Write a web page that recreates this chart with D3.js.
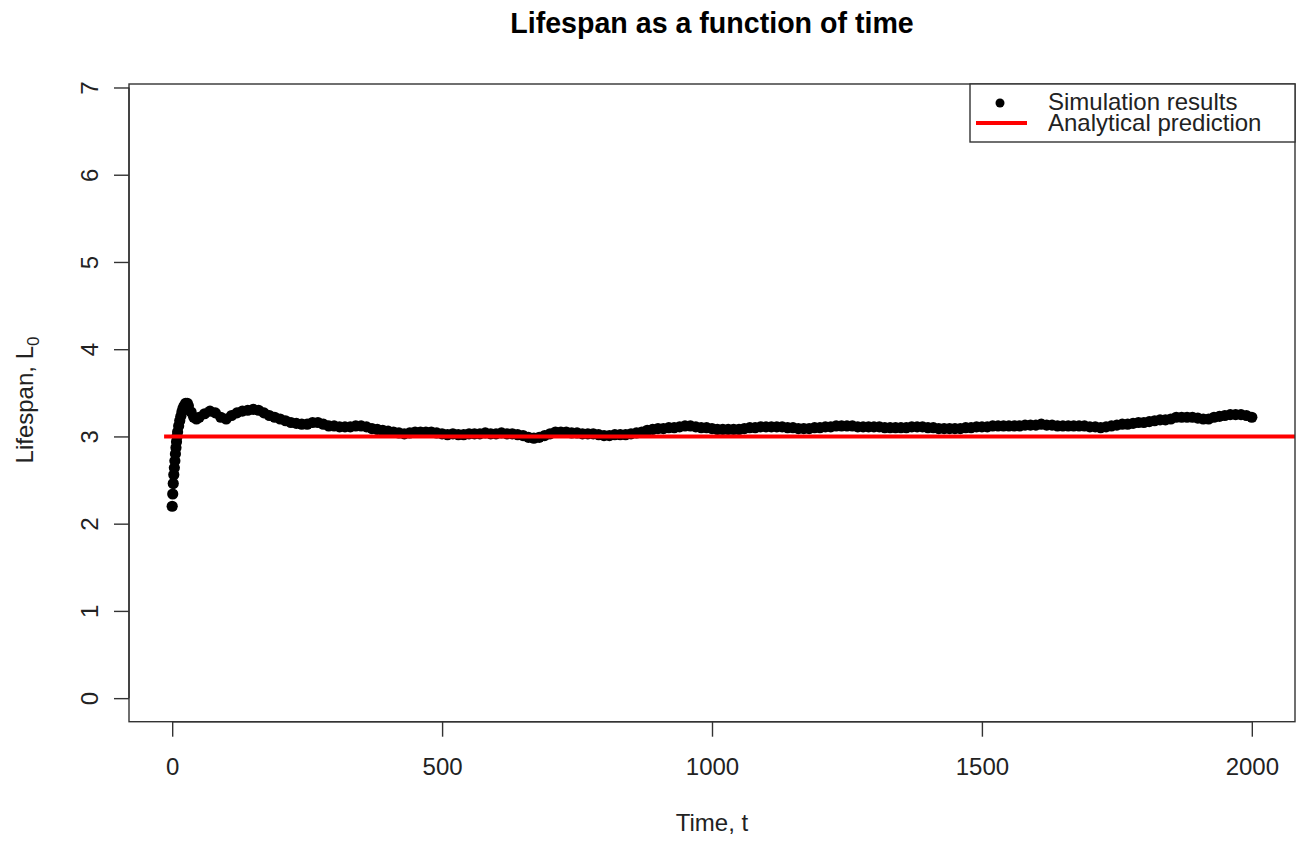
<!DOCTYPE html>
<html>
<head>
    <meta charset="utf-8">
    <style>
        body { margin: 0; background: white; }
        svg { display: block; font-family: "Liberation Sans", Arial, sans-serif; }
        .axis text { font-size: 24px; fill: #222; }
        .axis path, .axis line { stroke: #333; stroke-width: 1.4px; }
    </style>
</head>
<body>
    <svg width="1300" height="841"></svg>

<script src="https://d3js.org/d3.v7.min.js"></script>
<script>
    // time steps and simulated lifespan
    let timeSteps = [0, 1, 2, 3, 4, 5, 6, 7, 8, 9, 10, 12, 14, 16, 18, 20, 22, 25, 28, 30, 35,
        40, 45, 50, 60, 70, 80, 90, 100, 110, 120, 130, 140, 150, 160, 170, 180, 190, 200,
        210, 220, 230, 240, 250, 260, 270, 280, 290, 300, 310, 320, 330, 340, 350, 360, 370,
        380, 390, 400, 410, 420, 430, 440, 450, 460, 470, 480, 490, 500, 510, 520, 530, 540,
        550, 560, 570, 580, 590, 600, 610, 620, 630, 640, 650, 660, 670, 680, 690, 700, 710,
        720, 730, 740, 750, 760, 770, 780, 790, 800, 810, 820, 830, 840, 850, 860, 870, 880,
        890, 900, 910, 920, 930, 940, 950, 960, 970, 980, 990, 1000, 1010, 1020, 1030, 1040,
        1050, 1060, 1070, 1080, 1090, 1100, 1110, 1120, 1130, 1140, 1150, 1160, 1170, 1180,
        1190, 1200, 1210, 1220, 1230, 1240, 1250, 1260, 1270, 1280, 1290, 1300, 1310, 1320,
        1330, 1340, 1350, 1360, 1370, 1380, 1390, 1400, 1410, 1420, 1430, 1440, 1450, 1460,
        1470, 1480, 1490, 1500, 1510, 1520, 1530, 1540, 1550, 1560, 1570, 1580, 1590, 1600,
        1610, 1620, 1630, 1640, 1650, 1660, 1670, 1680, 1690, 1700, 1710, 1720, 1730, 1740,
        1750, 1760, 1770, 1780, 1790, 1800, 1810, 1820, 1830, 1840, 1850, 1860, 1870, 1880,
        1890, 1900, 1910, 1920, 1930, 1940, 1950, 1960, 1970, 1980, 1990, 2000]

    let lifespan = [2.20, 2.34, 2.46, 2.56, 2.64, 2.72, 2.80, 2.87, 2.94, 3.00, 3.05, 3.12, 3.18, 3.23, 3.28, 3.32, 3.35, 3.38, 3.38, 3.35, 3.28,
        3.22, 3.20, 3.22, 3.26, 3.29, 3.27, 3.22, 3.20, 3.24, 3.27, 3.29, 3.30, 3.31, 3.30, 3.27, 3.24, 3.22, 3.20,
        3.18, 3.16, 3.15, 3.14, 3.14, 3.16, 3.16, 3.14, 3.12, 3.12, 3.11, 3.11, 3.11, 3.12, 3.12, 3.11, 3.09,
        3.08, 3.07, 3.06, 3.05, 3.04, 3.03, 3.04, 3.05, 3.05, 3.05, 3.05, 3.04, 3.03, 3.02, 3.03, 3.02, 3.02,
        3.03, 3.03, 3.03, 3.04, 3.03, 3.03, 3.04, 3.03, 3.03, 3.02, 3.01, 2.99, 2.98, 2.99, 3.01, 3.03, 3.05,
        3.05, 3.05, 3.04, 3.04, 3.03, 3.03, 3.03, 3.02, 3.01, 3.01, 3.02, 3.02, 3.02, 3.03, 3.04, 3.05, 3.07,
        3.08, 3.09, 3.09, 3.10, 3.10, 3.11, 3.12, 3.12, 3.11, 3.10, 3.10, 3.09, 3.08, 3.08, 3.08, 3.08,
        3.08, 3.09, 3.10, 3.10, 3.11, 3.11, 3.11, 3.11, 3.11, 3.10, 3.10, 3.09, 3.09, 3.09,
        3.10, 3.10, 3.11, 3.11, 3.12, 3.12, 3.12, 3.12, 3.11, 3.11, 3.11, 3.11, 3.11, 3.10,
        3.10, 3.10, 3.10, 3.10, 3.11, 3.11, 3.11, 3.10, 3.10, 3.09, 3.09, 3.09, 3.09, 3.09,
        3.10, 3.10, 3.11, 3.11, 3.11, 3.12, 3.12, 3.12, 3.12, 3.12, 3.12, 3.13, 3.13, 3.13,
        3.14, 3.13, 3.13, 3.12, 3.12, 3.12, 3.12, 3.12, 3.12, 3.11, 3.11, 3.10, 3.11, 3.12,
        3.13, 3.14, 3.14, 3.15, 3.16, 3.16, 3.17, 3.18, 3.19, 3.19, 3.20, 3.22, 3.22, 3.22,
        3.22, 3.21, 3.20, 3.20, 3.22, 3.23, 3.24, 3.25, 3.25, 3.25, 3.24, 3.22]

    let xTicks = [0, 500, 1000, 1500, 2000]
    let yTicks = [0, 1, 2, 3, 4, 5, 6, 7]
    let predicted = 3
    let predictionRange = [-15, 2080]
    let legendLabels = ["Simulation results", "Analytical prediction"]

    let data = timeSteps.map((t, i) => ({ t: t, v: lifespan[i] }))

    let svg = d3.select("svg")

    let plot = { left: 129, right: 1295, top: 84, bottom: 721.7 }

    let x = d3.scaleLinear()
        .domain([-80, 2080])
        .range([plot.left, plot.right])

    let y = d3.scaleLinear()
        .domain([-0.27, 7.04])
        .range([plot.bottom, plot.top])

    // points (thick band like the overlapping R dots)
    svg.append("g")
        .selectAll("circle")
        .data(data)
        .join("circle")
        .attr("cx", d => x(d.t))
        .attr("cy", d => y(d.v))
        .attr("r", 5.6)
        .attr("fill", "black")

    // analytical prediction
    svg.append("line")
        .attr("x1", x(predictionRange[0]))
        .attr("x2", x(predictionRange[1]))
        .attr("y1", y(predicted))
        .attr("y2", y(predicted))
        .style("stroke", "#ff0000")
        .style("stroke-width", 4)

    // box
    svg.append("rect")
        .attr("x", plot.left)
        .attr("y", plot.top)
        .attr("width", plot.right - plot.left)
        .attr("height", plot.bottom - plot.top)
        .style("fill", "none")
        .style("stroke", "#333")
        .style("stroke-width", 1.4)

    let xAxis = svg.append("g")
        .attr("class", "axis")
        .attr("transform", `translate(0,${plot.bottom})`)
        .call(d3.axisBottom(x).tickValues(xTicks).tickFormat(d3.format("d"))
            .tickSize(15).tickPadding(0).tickSizeOuter(0))
    xAxis.select(".domain")
        .attr("d", `M${x(xTicks[0])},0H${x(xTicks[xTicks.length - 1])}`)
    xAxis.selectAll("text").attr("dy", null).attr("y", 53)

    let yAxis = svg.append("g")
        .attr("class", "axis")
        .attr("transform", `translate(${plot.left},0)`)
        .call(d3.axisLeft(y).tickValues(yTicks).tickSize(15).tickSizeOuter(0))
    yAxis.select(".domain")
        .attr("d", `M0,${y(yTicks[0])}V${y(yTicks[yTicks.length - 1])}`)
    yAxis.selectAll("text")
        .attr("x", null).attr("dy", null)
        .attr("text-anchor", "middle")
        .attr("transform", "translate(-31,0) rotate(-90)")

    // title
    svg.append("text")
        .attr("x", 712)
        .attr("y", 33)
        .attr("text-anchor", "middle")
        .style("font-size", "28.6px")
        .style("font-weight", "bold")
        .style("fill", "black")
        .text("Lifespan as a function of time")

    svg.append("text")
        .attr("x", 712)
        .attr("y", 831)
        .attr("text-anchor", "middle")
        .style("font-size", "24px")
        .style("fill", "#222")
        .text("Time, t")

    let ylab = svg.append("text")
        .attr("transform", "translate(33,400) rotate(-90)")
        .attr("text-anchor", "middle")
        .style("font-size", "24px")
        .style("fill", "#222")
    ylab.append("tspan").text("Lifespan, L")
    ylab.append("tspan").attr("dy", 6).style("font-size", "17px").text("0")

    // legend
    let legend = svg.append("g")
    legend.append("rect")
        .attr("x", 970)
        .attr("y", plot.top)
        .attr("width", plot.right - 970)
        .attr("height", 58)
        .style("fill", "white")
        .style("stroke", "#333")
        .style("stroke-width", 1.4)
    legend.append("circle")
        .attr("cx", 1000)
        .attr("cy", 103)
        .attr("r", 4.5)
        .attr("fill", "black")
    legend.append("line")
        .attr("x1", 976)
        .attr("x2", 1027)
        .attr("y1", 123)
        .attr("y2", 123)
        .style("stroke", "#ff0000")
        .style("stroke-width", 4)
    legend.selectAll(".lab")
        .data(legendLabels)
        .join("text")
        .attr("x", 1048)
        .attr("y", (d, i) => 110 + i * 21)
        .style("font-size", "24px")
        .style("fill", "#222")
        .text(d => d)
</script>
</body>
</html>
